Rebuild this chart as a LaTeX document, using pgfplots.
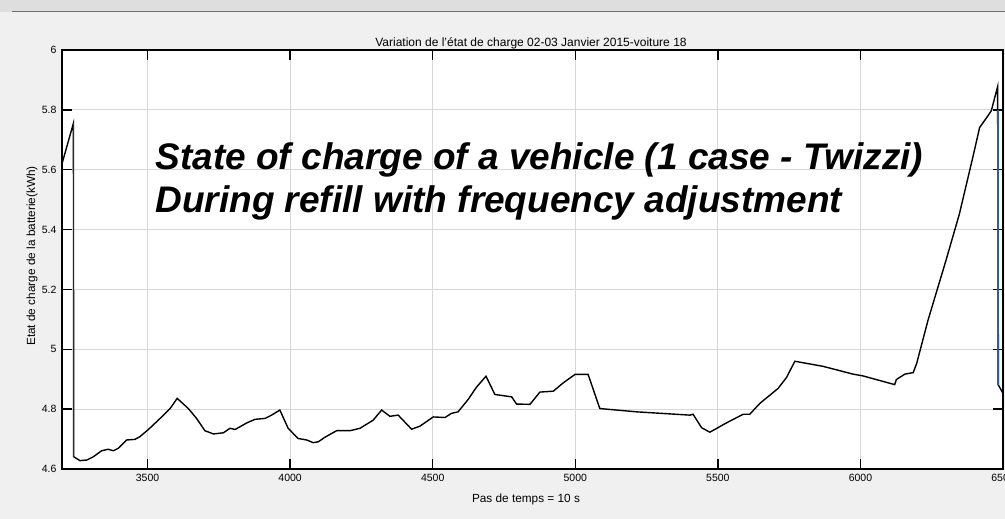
\documentclass[border=0pt]{standalone}
\usepackage{pgfplots}
\pgfplotsset{compat=1.18}
\usepackage{fontspec}
\setmainfont{Liberation Sans}
\definecolor{bgc}{RGB}{240,240,240}
\definecolor{topc}{RGB}{222,222,222}
\definecolor{rulec}{RGB}{110,110,110}
\definecolor{gridc}{RGB}{215,215,215}
\definecolor{bluel}{RGB}{45,95,150}
\definecolor{navy}{RGB}{25,45,80}
\begin{document}
\begin{tikzpicture}
\path[use as bounding box] (0,0) rectangle (1005bp,519bp);
\fill[bgc] (0,0) rectangle (1005bp,519bp);
\fill[topc] (0,507bp) rectangle (1005bp,519bp);
\draw[rulec, line width=1.5bp] (12bp,507.5bp) -- (1005bp,507.5bp);
\begin{axis}[
  at={(62bp,50bp)}, anchor=south west,
  scale only axis, width=941bp, height=419bp,
  xmin=3200, xmax=6500, ymin=4.6, ymax=6,
  axis background/.style={fill=white},
  xtick={3500,4000,4500,5000,5500,6000,6500},
  xticklabels={3500,4000,4500,5000,5500,6000,6500},
  ytick={4.6,4.8,5,5.2,5.4,5.6,5.8,6},
  yticklabels={4.6,4.8,5,5.2,5.4,5.6,5.8,6},
  grid=major,
  major grid style={draw=gridc, line width=1bp},
  axis line style={line width=1.5bp},
  tick align=inside, tick pos=both,
  major tick length=10bp,
  every tick/.style={black, line width=1.5bp},
  tick label style={font=\fontsize{10.5bp}{12bp}\selectfont},
  yticklabel style={xshift=-2bp},
  xticklabel style={yshift=-2bp},
]
\addplot[black, line width=1.4bp] coordinates {
(3200,5.62) (3240,5.755) (3241,4.641) (3263,4.628) (3287,4.630) (3310,4.641)
(3339,4.661) (3362,4.666) (3380,4.661) (3397,4.669) (3427,4.697) (3456,4.699)
(3473,4.708) (3503,4.732) (3544,4.769) (3579,4.802) (3604,4.836) (3643,4.802)
(3672,4.769) (3701,4.728) (3731,4.717) (3766,4.721) (3789,4.736) (3807,4.732)
(3848,4.754) (3877,4.766) (3912,4.769) (3935,4.780) (3964,4.797) (3993,4.736)
(4028,4.702) (4058,4.697) (4081,4.688) (4099,4.691) (4122,4.706) (4163,4.728)
(4210,4.728) (4245,4.736) (4291,4.763) (4321,4.797) (4350,4.776) (4379,4.780)
(4426,4.733) (4455,4.743) (4502,4.774) (4543,4.772) (4566,4.786) (4589,4.791)
(4624,4.832) (4654,4.874) (4687,4.910) (4718,4.849) (4777,4.841) (4794,4.817)
(4841,4.816) (4876,4.857) (4923,4.860) (4958,4.888) (4999,4.916) (5045,4.916)
(5086,4.802) (5215,4.791) (5402,4.780) (5413,4.783) (5443,4.738) (5472,4.723)
(5530,4.754) (5589,4.783) (5612,4.783) (5647,4.819) (5711,4.869) (5741,4.906)
(5770,4.960) (5834,4.949) (5869,4.943) (5974,4.917) (6009,4.911) (6120,4.882)
(6126,4.899) (6156,4.917) (6185,4.922) (6197,4.952) (6237,5.097) (6300,5.297)
(6347,5.452) (6394,5.641) (6418,5.741) (6447,5.780) (6459,5.797) (6471,5.841)
(6481,5.877) (6484,4.880) (6500,4.853)
};
\addplot[navy, line width=1.4bp] coordinates {(3241,5.755) (3241,4.641)};
\addplot[bluel, line width=2bp] coordinates {(6484,5.80) (6484,4.88)};
\end{axis}
\node[anchor=base, font=\fontsize{12bp}{14bp}\selectfont] at (531bp,472bp) {Variation de l'état de charge 02-03 Janvier 2015-voiture 18};
\node[anchor=base west, font=\fontsize{37bp}{43bp}\selectfont\bfseries\itshape] at (152bp,349bp) {State of charge of a vehicle (1 case - Twizzi)};
\node[anchor=base west, font=\fontsize{37bp}{43bp}\selectfont\bfseries\itshape] at (152bp,306bp) {During refill with frequency adjustment};
\node[rotate=90, font=\fontsize{11.8bp}{14bp}\selectfont] at (32bp,263bp) {Etat de charge de la batterie(kWh)};
\node[font=\fontsize{11.8bp}{14bp}\selectfont] at (526bp,20bp) {Pas de temps = 10 s};
\end{tikzpicture}
\end{document}
